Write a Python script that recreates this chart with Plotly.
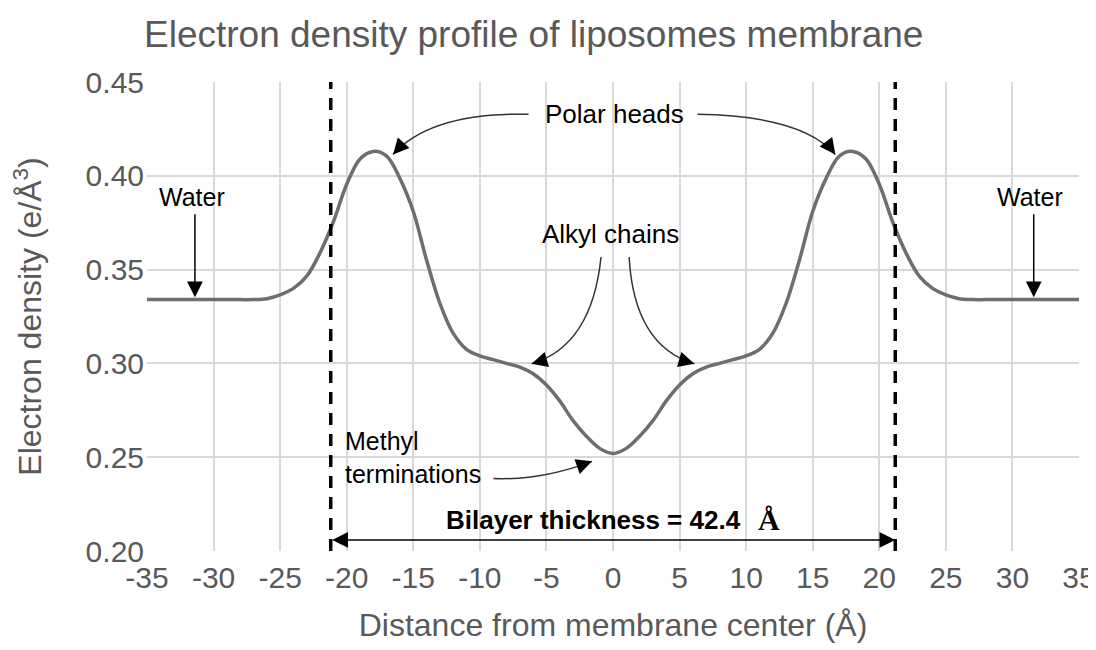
import plotly.graph_objects as go

# ---- data ----
distance = list(range(-35, 36))
density_left = [0.334, 0.334, 0.334, 0.334, 0.334, 0.334, 0.334, 0.334, 0.334,    # -35..-27
                0.3345, 0.3365, 0.340, 0.3465, 0.359, 0.3755, 0.3955, 0.409, 0.413, # -26..-18
                0.4105, 0.3985, 0.381, 0.355, 0.332, 0.316, 0.3075, 0.304, 0.302,   # -17..-9
                0.300, 0.298, 0.2945, 0.2885, 0.280, 0.2695, 0.2612, 0.2547]        # -8..-1
density_center = [0.252]
density_right = [0.2547, 0.2612, 0.2695, 0.280, 0.2885, 0.2945, 0.298, 0.300,       # 1..8
                 0.302, 0.304, 0.3075, 0.316, 0.332, 0.355, 0.381, 0.3985, 0.4105,  # 9..17
                 0.413, 0.409, 0.3955, 0.3755, 0.359, 0.3465, 0.340, 0.3365, 0.3345, # 18..26
                 0.334, 0.334, 0.334, 0.334, 0.334, 0.334, 0.334, 0.334, 0.334]     # 27..35
density = density_left + density_center + density_right

bilayer_edges = [-21.2, 21.2]
x_ticks = list(range(-35, 40, 5))
x_tick_text = [str(v) for v in x_ticks]          # ASCII hyphen like the reference
y_ticks = [0.20, 0.25, 0.30, 0.35, 0.40, 0.45]

GRAY_TXT = "#595959"
FONT = "Liberation Sans, Arial, sans-serif"

fig = go.Figure()
fig.add_trace(go.Scatter(x=distance, y=density, mode="lines",
                         line=dict(color="#6e6e6e", width=3.5, shape="spline", smoothing=1.0),
                         hoverinfo="skip", showlegend=False))

# dashed bilayer boundaries
for xb in bilayer_edges:
    fig.add_shape(type="line", xref="x", yref="y", x0=xb, x1=xb, y0=0.20, y1=0.45,
                  line=dict(color="black", width=3.5, dash="12px,9px"))

# curved arrow bodies (quadratic bezier paths in data coordinates)
curves = [
    ((-6.34, 0.4328), (-13.65, 0.4339), (-16.52, 0.4114)),   # polar heads left
    ((6.34, 0.4328), (14.2, 0.4320), (16.7, 0.4114)),        # polar heads right
    ((-0.9, 0.3567), (-1.58, 0.3094), (-6.11, 0.2998)),      # alkyl left
    ((1.21, 0.3567), (1.58, 0.3094), (6.11, 0.2998)),        # alkyl right
    ((-8.98, 0.2386), (-5.36, 0.2376), (-1.58, 0.2478)),     # methyl
]
for p0, c, p2 in curves:
    fig.add_shape(type="path", xref="x", yref="y",
                  path=f"M {p0[0]},{p0[1]} Q {c[0]},{c[1]} {p2[0]},{p2[1]}",
                  line=dict(color="#333333", width=1.5))

# arrowheads at curve tips (pixel offsets along the tangent)
heads = [
    ((-16.52, 0.4114), 10, -11),
    ((16.7, 0.4114), -9, -12),
    ((-6.11, 0.2998), 14, -4),
    ((6.11, 0.2998), -14, -4),
    ((-1.58, 0.2478), -14, 5),
]
for (hx, hy), ax, ay in heads:
    fig.add_annotation(x=hx, y=hy, ax=ax, ay=ay, text="", showarrow=True,
                       arrowhead=2, arrowsize=2.1, arrowwidth=1.5, arrowcolor="black")

# straight water arrows
for wx in [-31.4, 31.6]:
    fig.add_annotation(x=wx, y=0.3352, ax=wx, ay=0.3803, axref="x", ayref="y",
                       text="", showarrow=True, arrowhead=2, arrowsize=2.1,
                       arrowwidth=1.5, arrowcolor="black")

# bilayer double arrow
fig.add_annotation(x=bilayer_edges[1], y=0.2059, ax=bilayer_edges[0], ay=0.2059,
                   axref="x", ayref="y", text="", showarrow=True,
                   arrowhead=2, startarrowhead=2, arrowside="end+start",
                   arrowsize=2.1, startarrowsize=2.1, arrowwidth=1.5, arrowcolor="black")

# text labels
txt = dict(font=dict(family=FONT, size=25, color="black"), showarrow=False)
fig.add_annotation(x=-31.6, y=0.3888, text="Water", **txt)
fig.add_annotation(x=31.3, y=0.3888, text="Water", **txt)
fig.add_annotation(x=0.1, y=0.4328, text="Polar heads", font=dict(family=FONT, size=26, color="black"),
                   showarrow=False)
fig.add_annotation(x=-0.2, y=0.369, text="Alkyl chains", font=dict(family=FONT, size=26, color="black"),
                   showarrow=False)
fig.add_annotation(x=-20.3, y=0.2499, text="Methyl<br>terminations", xanchor="left",
                   align="left", **txt)
fig.add_annotation(x=-1.5, y=0.2166, text="<b>Bilayer thickness = 42.4</b>",
                   font=dict(family=FONT, size=26, color="black"), showarrow=False)
fig.add_annotation(x=11.7, y=0.2166, text="<b>Å</b>",
                   font=dict(family="Liberation Serif, serif", size=30, color="black"),
                   showarrow=False)

# note: the page body adds an 8px offset, compensated in the margins below
fig.update_layout(
    width=1096, height=650,
    margin=dict(l=139, r=25, t=74, b=107),
    paper_bgcolor="white", plot_bgcolor="white",
    title=dict(text="Electron density profile of liposomes membrane",
               x=136 / 1096, xanchor="left", y=1 - 26 / 650, yanchor="middle",
               font=dict(family=FONT, size=37, color=GRAY_TXT)),
    xaxis=dict(range=[-35, 35], tickvals=x_ticks, ticktext=x_tick_text, showgrid=True,
               gridcolor="#d9d9d9", gridwidth=1.5, zeroline=False, showline=False,
               automargin=False,
               tickfont=dict(family=FONT, size=30, color=GRAY_TXT), ticklabelstandoff=6,
               title=dict(text="Distance from membrane center (Å)", standoff=20,
                          font=dict(family=FONT, size=32, color=GRAY_TXT))),
    yaxis=dict(range=[0.20, 0.45], tickvals=y_ticks, tickformat=".2f", showgrid=True,
               gridcolor="#d9d9d9", gridwidth=1.5, zeroline=False, showline=False,
               automargin=False,
               tickfont=dict(family=FONT, size=30, color=GRAY_TXT), ticklabelstandoff=2,
               title=dict(text="Electron density (e/Å<sup>3</sup>)", standoff=34,
                          font=dict(family=FONT, size=32, color=GRAY_TXT))),
)

fig.write_html("out.html")
